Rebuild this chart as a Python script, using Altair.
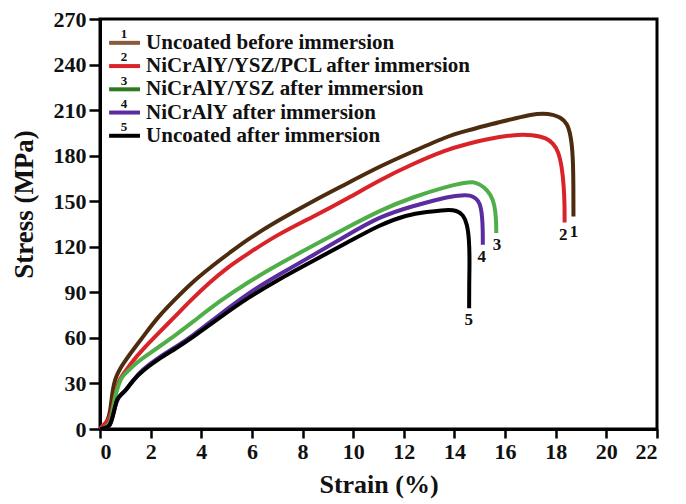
import altair as alt
import pandas as pd

FONT = "Liberation Serif"

names = ["Uncoated before immersion", "NiCrAlY/YSZ/PCL after immersion",
         "NiCrAlY/YSZ after immersion", "NiCrAlY after immersion",
         "Uncoated after immersion"]
numbers = ["1", "2", "3", "4", "5"]
curve_colors = ["#4d2b0f", "#d92328", "#4fae47", "#5a2ca0", "#000000"]
legend_colors = ["#8b5a3c", "#d92328", "#2f7a1f", "#5a2ca0", "#000000"]

# 1 Uncoated before immersion
x1 = [0, 0.15, 0.3, 0.41, 0.47, 0.55, 0.65, 0.8, 1.0, 1.3, 1.8, 2.3, 3.0, 3.6, 4.4, 5.2, 5.8, 7.0, 8.4, 9.8,
      11.05, 12.4, 13.7, 14.4, 15.5, 16.5, 17.0, 17.5, 17.9, 18.2, 18.45, 18.6, 18.68, 18.7, 18.7]
y1 = [0, 2, 5, 12, 22, 30, 35, 40, 45, 52, 63, 74, 86, 96, 107, 117, 124.6, 137, 150, 162,
      173, 183, 192.7, 196, 201, 205, 207, 208, 207, 205, 201.5, 193, 180, 160, 140]
# 2 NiCrAlY/YSZ/PCL after immersion
x2 = [0, 0.15, 0.3, 0.45, 0.55, 0.65, 0.74, 1.0, 1.3, 1.66, 2.3, 2.96, 3.6, 4.29, 5.0, 5.8, 7.0, 8.44, 9.8,
      11.05, 12.4, 13.7, 14.36, 15.3, 16.3, 17.1, 17.65, 17.9, 18.1, 18.24, 18.32, 18.35, 18.35]
y2 = [0, 3, 5, 10, 18, 26, 32, 38, 45, 52, 63, 74, 85, 96, 106, 115, 128, 140, 152,
      164, 175, 184, 187, 191, 193.8, 193.8, 191.6, 188, 183, 173, 160, 148, 136]
# 3 NiCrAlY/YSZ after immersion
x3 = [0, 0.2, 0.4, 0.5, 0.6, 0.75, 0.87, 1.1, 1.39, 1.8, 2.32, 3.0, 3.63, 4.7, 5.87, 7.0, 8.44, 9.8,
      11.05, 12.4, 13.7, 14.36, 14.75, 15.01, 15.3, 15.54, 15.62, 15.65, 15.65]
y3 = [0, 1, 3, 12, 22, 30, 34.5, 38, 43, 48, 54, 62, 70, 84, 97, 108, 121, 133,
      144, 153, 159.7, 162, 163, 161, 157.5, 151, 143, 135, 129]
# 4 NiCrAlY after immersion
x4 = [0, 0.2, 0.4, 0.5, 0.6, 0.7, 0.85, 1.0, 1.3, 1.66, 2.3, 3.0, 3.63, 4.7, 5.85, 7.0, 8.44, 9.8,
      11.05, 12.4, 13.3, 13.8, 14.3, 14.62, 14.85, 15.01, 15.1, 15.12, 15.12]
y4 = [0, 0.5, 2, 8, 15, 20, 23, 25, 32, 39, 47, 54, 61, 75, 89.5, 101, 114.7, 128,
      140, 147, 151, 153, 154, 154, 152, 148.8, 140, 130, 121.3]
# 5 Uncoated after immersion
x5 = [0, 0.2, 0.4, 0.5, 0.6, 0.67, 0.85, 1.0, 1.3, 1.66, 2.3, 3.0, 3.63, 4.7, 5.8, 7.0, 8.44, 9.8,
      11.05, 12.12, 12.9, 13.7, 14.09, 14.35, 14.5, 14.58, 14.6, 14.58, 14.58]
y5 = [0, 0.5, 2, 8, 15, 20, 23, 25, 32, 38, 46, 53, 60, 73, 86, 98, 111, 123,
      134.5, 141, 143, 144.4, 144, 141, 135, 125, 110, 95, 79.6]

xs = [x1, x2, x3, x4, x5]
ys = [y1, y2, y3, y4, y5]

# end-of-curve number labels (data position)
end_x = [18.72, 18.3, 15.68, 15.08, 14.56]
end_y = [130, 128, 121, 113.5, 72]

# legend layout in data units
leg_x0, leg_x1, leg_num_x, leg_txt_x = 0.36, 1.58, 0.95, 1.82
leg_y = [254.3, 239.0, 223.7, 208.4, 193.1]

x_ticks = list(range(0, 23, 2))
y_ticks = list(range(0, 271, 30))

rows = []
for k, (xx, yy) in enumerate(zip(xs, ys)):
    for i, (a, b) in enumerate(zip(xx, yy)):
        rows.append({"s": names[k], "k": k, "i": i, "x": a, "y": b})
df = pd.DataFrame(rows)

leg = pd.DataFrame({"name": names, "num": numbers, "col": legend_colors,
                    "x": [leg_x0] * 5, "x1": [leg_x1] * 5, "xn": [leg_num_x] * 5,
                    "xt": [leg_txt_x] * 5, "y": leg_y,
                    "yn": [v + 5.8 for v in leg_y]})
ends = pd.DataFrame({"num": numbers, "x": end_x, "y": end_y})

xscale = alt.Scale(domain=[0, 22], nice=False)
yscale = alt.Scale(domain=[0, 270], nice=False)

xaxis = alt.Axis(values=x_ticks, title="Strain (%)", grid=False,
                 labelFont=FONT, labelFontSize=22, labelFontWeight="bold", labelColor="#111",
                 labelPadding=3, tickSize=9, tickWidth=2.5, tickColor="black",
                 domainColor="black", domainWidth=3,
                 titleFont=FONT, titleFontSize=26, titleFontWeight="bold", titleColor="#111",
                 titleY=42, titleBaseline="top")
yaxis = alt.Axis(values=y_ticks, title="Stress (MPa)", grid=False,
                 labelFont=FONT, labelFontSize=22, labelFontWeight="bold", labelColor="#111",
                 labelPadding=3, tickSize=11, tickWidth=2.5, tickColor="black",
                 domainColor="black", domainWidth=3,
                 titleFont=FONT, titleFontSize=27, titleFontWeight="bold", titleColor="#111",
                 titleX=-62, titleY=185, titleAngle=-90, titleBaseline="bottom",
                 titleAlign="center")


def X(f):
    return alt.X(f, type="quantitative", scale=xscale, axis=xaxis)


def Y(f):
    return alt.Y(f, type="quantitative", scale=yscale, axis=yaxis)


curves = alt.Chart(df).mark_line(strokeWidth=4, interpolate="basis").encode(
    x=X("x"), y=Y("y"),
    color=alt.Color("s:N", scale=alt.Scale(domain=names, range=curve_colors), legend=None),
    detail="k:N",
    order=alt.Order("i:Q"),
)

leg_lines = alt.Chart(leg).mark_rule(strokeWidth=4).encode(
    x=X("x"), x2="x1:Q", y=Y("y"),
    color=alt.Color("col:N", scale=None),
)
leg_nums = alt.Chart(leg).mark_text(font=FONT, fontSize=13, fontWeight="bold", color="#111",
                                    baseline="middle", align="center").encode(
    x=X("xn"), y=Y("yn"), text="num:N",
)
leg_txt = alt.Chart(leg).mark_text(font=FONT, fontSize=21, fontWeight="bold", color="#111",
                                   baseline="middle", align="left").encode(
    x=X("xt"), y=Y("y"), text="name:N",
)
end_lbl = alt.Chart(ends).mark_text(font=FONT, fontSize=17, fontWeight="bold", color="#111",
                                    baseline="middle", align="center").encode(
    x=X("x"), y=Y("y"), text="num:N",
)

chart = alt.layer(curves, leg_lines, leg_nums, leg_txt, end_lbl).properties(
    width=557, height=410,
    autosize=alt.AutoSizeParams(type="none"),
    padding={"left": 92, "top": 11, "right": 21, "bottom": 70},
    background="white",
).configure_view(stroke="black", strokeWidth=3)

chart.save("out.html", embed_options={"renderer": "svg", "actions": False})
